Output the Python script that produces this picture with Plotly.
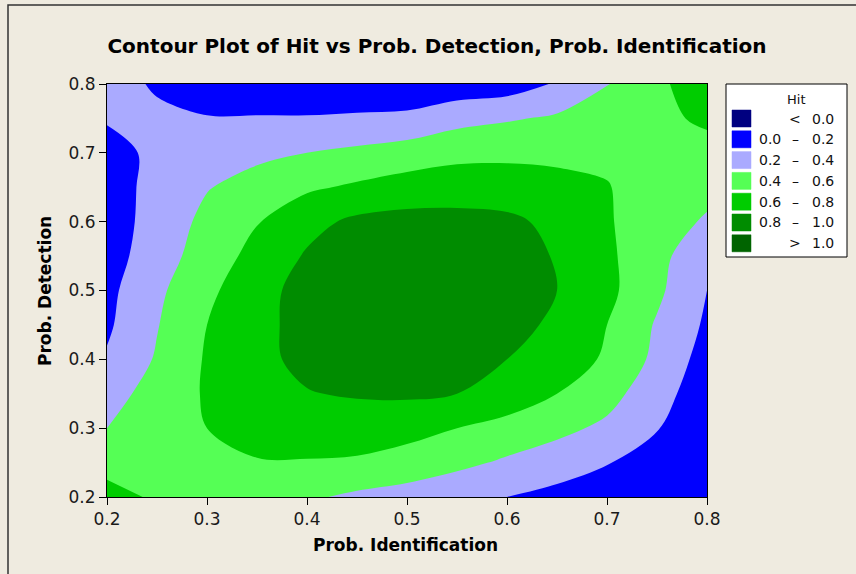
import plotly.graph_objects as go

# ---------------- data ----------------
prob_identification = [0.20, 0.25, 0.30, 0.35, 0.40, 0.45, 0.50, 0.55, 0.60, 0.65, 0.70, 0.75, 0.80]
prob_detection = [0.20, 0.25, 0.30, 0.35, 0.40, 0.45, 0.50, 0.55, 0.60, 0.65, 0.70, 0.75, 0.80]

# Hit values, one row per Prob. Detection (ascending), columns = Prob. Identification
hit_d020 = [0.65, 0.58, 0.54, 0.49, 0.43, 0.36, 0.31, 0.25, 0.20, 0.14, 0.09, 0.05, 0.02]
hit_d025 = [0.55, 0.56, 0.58, 0.59, 0.59, 0.58, 0.53, 0.45, 0.37, 0.30, 0.21, 0.10, 0.03]
hit_d030 = [0.40, 0.50, 0.60, 0.66, 0.68, 0.68, 0.66, 0.60, 0.53, 0.45, 0.36, 0.21, 0.06]
hit_d035 = [0.32, 0.48, 0.62, 0.73, 0.79, 0.82, 0.83, 0.80, 0.72, 0.60, 0.47, 0.28, 0.08]
hit_d040 = [0.22, 0.42, 0.62, 0.75, 0.85, 0.93, 0.94, 0.90, 0.80, 0.68, 0.58, 0.35, 0.12]
hit_d045 = [0.17, 0.39, 0.60, 0.75, 0.86, 0.96, 0.98, 0.95, 0.89, 0.75, 0.60, 0.38, 0.17]
hit_d050 = [0.15, 0.36, 0.56, 0.72, 0.88, 0.95, 0.98, 0.97, 0.93, 0.80, 0.65, 0.44, 0.20]
hit_d055 = [0.12, 0.30, 0.50, 0.66, 0.82, 0.90, 0.93, 0.94, 0.92, 0.78, 0.64, 0.45, 0.28]
hit_d060 = [0.10, 0.28, 0.45, 0.59, 0.74, 0.84, 0.87, 0.88, 0.85, 0.74, 0.62, 0.48, 0.38]
hit_d065 = [0.10, 0.27, 0.39, 0.47, 0.57, 0.63, 0.68, 0.68, 0.67, 0.64, 0.61, 0.50, 0.45]
hit_d070 = [0.12, 0.25, 0.30, 0.36, 0.40, 0.445, 0.50, 0.56, 0.57, 0.57, 0.56, 0.53, 0.54]
hit_d075 = [0.22, 0.25, 0.21, 0.21, 0.21, 0.22, 0.23, 0.33, 0.38, 0.43, 0.50, 0.56, 0.63]
hit_d080 = [0.30, 0.17, 0.10, 0.10, 0.10, 0.10, 0.10, 0.08, 0.10, 0.22, 0.39, 0.565, 0.70]

hit = [hit_d020, hit_d025, hit_d030, hit_d035, hit_d040, hit_d045, hit_d050,
       hit_d055, hit_d060, hit_d065, hit_d070, hit_d075, hit_d080]

tick_values = [0.2, 0.3, 0.4, 0.5, 0.6, 0.7, 0.8]
tick_labels = ["0.2", "0.3", "0.4", "0.5", "0.6", "0.7", "0.8"]

band_colors = ["#000080", "#0000FF", "#AAAAFF", "#55FF55", "#00CC00", "#008C00", "#006400"]
legend_low = ["", "0.0", "0.2", "0.4", "0.6", "0.8", ""]
legend_mid = ["<", "\u2013", "\u2013", "\u2013", "\u2013", "\u2013", ">"]
legend_high = ["0.0", "0.2", "0.4", "0.6", "0.8", "1.0", "1.0"]

# ---------------- layout geometry (pixels) ----------------
W, H = 856, 574
PL, PR, PT, PB = 107, 707, 84, 497


def px(x):
    return (x - PL) / (PR - PL)


def py(y):
    return (PB - y) / (PB - PT)


BG = "#EFEBE0"
FONT = "DejaVu Sans"

n = len(band_colors)
colorscale = [[i / (n - 1), c] for i, c in enumerate(band_colors)]

fig = go.Figure()
fig.add_trace(go.Contour(
    x=prob_identification, y=prob_detection, z=hit,
    colorscale=colorscale, showscale=False,
    contours=dict(start=0.0, end=1.0, size=0.2, coloring="fill", showlines=False),
    line=dict(width=0, smoothing=1),
    hoverinfo="skip",
))

shapes = []
annotations = []

# outer frame
shapes.append(dict(type="rect", xref="paper", yref="paper",
                   x0=px(8), y0=py(5), x1=px(W + 20), y1=py(H + 20),
                   line=dict(color="#333333", width=1.5), fillcolor="rgba(0,0,0,0)"))

# legend box
lx0, ly0, lx1, ly1 = 726, 84, 847, 257
shapes.append(dict(type="rect", xref="paper", yref="paper",
                   x0=px(lx0), y0=py(ly0), x1=px(lx1), y1=py(ly1),
                   line=dict(color="#000000", width=1), fillcolor="#FFFFFF"))
annotations.append(dict(xref="paper", yref="paper", x=px(796), y=py(99), text="Hit",
                        showarrow=False, xanchor="center", yanchor="middle",
                        font=dict(family=FONT, size=13, color="#111111")))
row_y0, row_dy = 118.5, 20.8
for i, c in enumerate(band_colors):
    cy = row_y0 + i * row_dy
    shapes.append(dict(type="rect", xref="paper", yref="paper",
                       x0=px(732), y0=py(cy - 8.5), x1=px(751), y1=py(cy + 8.5),
                       line=dict(color=c, width=0.5), fillcolor=c))
    if legend_low[i]:
        annotations.append(dict(xref="paper", yref="paper", x=px(783), y=py(cy),
                                text=legend_low[i], showarrow=False, xanchor="right",
                                yanchor="middle", font=dict(family=FONT, size=14, color="#111111")))
    annotations.append(dict(xref="paper", yref="paper", x=px(795), y=py(cy),
                            text=legend_mid[i], showarrow=False, xanchor="center",
                            yanchor="middle", font=dict(family=FONT, size=14, color="#111111")))
    annotations.append(dict(xref="paper", yref="paper", x=px(836), y=py(cy),
                            text=legend_high[i], showarrow=False, xanchor="right",
                            yanchor="middle", font=dict(family=FONT, size=14, color="#111111")))

# axis titles
annotations.append(dict(xref="paper", yref="paper", x=px(405), y=py(545),
                        text="<b>Prob. Identification</b>", showarrow=False,
                        xanchor="center", yanchor="middle",
                        font=dict(family=FONT, size=17, color="#000000")))
annotations.append(dict(xref="paper", yref="paper", x=px(45), y=py(291),
                        text="<b>Prob. Detection</b>", showarrow=False, textangle=-90,
                        xanchor="center", yanchor="middle",
                        font=dict(family=FONT, size=17, color="#000000")))

axis_common = dict(
    range=[0.2, 0.8], tickmode="array", tickvals=tick_values, ticktext=tick_labels,
    ticks="outside", ticklen=7, tickwidth=1, tickcolor="#000000",
    showline=True, linecolor="#000000", linewidth=1, mirror=True,
    showgrid=False, zeroline=False,
    tickfont=dict(family=FONT, size=17, color="#1a1a1a"),
)

fig.update_layout(
    width=W, height=H,
    margin=dict(l=PL, r=W - PR, t=PT, b=H - PB),
    paper_bgcolor=BG, plot_bgcolor=BG,
    title=dict(text="<b>Contour Plot of Hit vs Prob. Detection, Prob. Identification</b>",
               xref="container", yref="container", x=437 / W, y=1 - 46 / H,
               xanchor="center", yanchor="middle",
               font=dict(family=FONT, size=20, color="#000000")),
    xaxis=axis_common,
    yaxis=axis_common,
    shapes=shapes,
    annotations=annotations,
    showlegend=False,
)

fig.write_html("out.html",
               config={"displayModeBar": False},
               post_script="document.body.style.margin='0';document.body.style.overflow='hidden';")
